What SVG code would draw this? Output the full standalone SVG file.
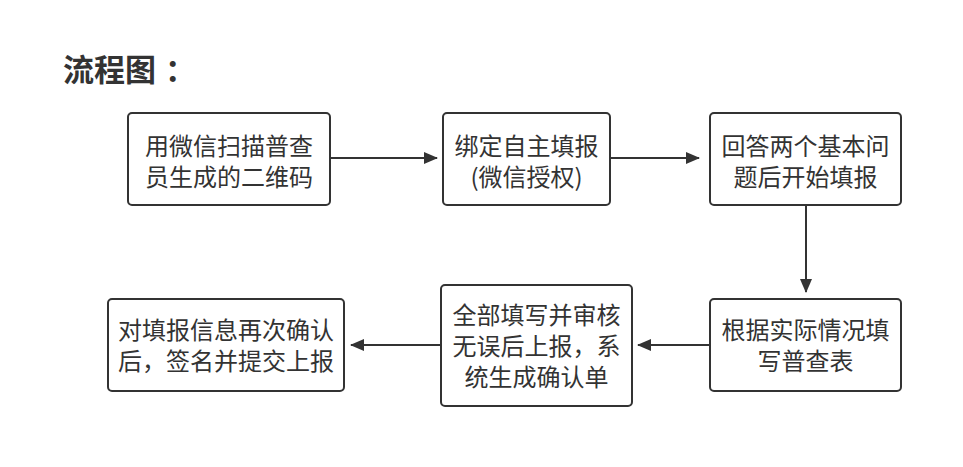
<svg xmlns="http://www.w3.org/2000/svg" width="963" height="467" viewBox="0 0 963 467">
<defs>
<style>
.box{fill:#fff;stroke:#333;stroke-width:2}
.t{font-family:"Noto Sans CJK SC","Noto Sans",sans-serif;font-size:24px;fill:#333;text-anchor:middle}
.title{font-family:"Noto Sans CJK SC","Noto Sans",sans-serif;font-size:31px;font-weight:bold;fill:#333}
.c{stroke:#333;stroke-width:2;fill:none;marker-end:url(#ah)}
</style>
<marker id="ah" viewBox="0 0 14 12" refX="13" refY="6" markerWidth="14" markerHeight="12" markerUnits="userSpaceOnUse" orient="auto">
<path d="M0,0 L14,6 L0,12 Z" fill="#333"/>
</marker>
</defs>
<rect width="963" height="467" fill="#fff"/>
<text class="title" x="63" y="81">流程图<tspan dx="9">：</tspan></text>
<g id="connectors">
<path class="c" d="M330,158 L437,158"/>
<path class="c" d="M610,158 L699,158"/>
<path class="c" d="M806,205 L806,292"/>
<path class="c" d="M710,345 L638,345"/>
<path class="c" d="M441,345 L351,345"/>
</g>
<g id="n1"><rect class="box" x="128" y="113" width="202" height="92" rx="4"/>
<text class="t" x="229" y="155">用微信扫描普查</text><text class="t" x="229" y="186">员生成的二维码</text></g>
<g id="n2"><rect class="box" x="443" y="113" width="167" height="92" rx="4"/>
<text class="t" x="526.5" y="155">绑定自主填报</text><text class="t" x="526.5" y="186">(微信授权)</text></g>
<g id="n3"><rect class="box" x="710" y="113" width="191" height="92" rx="4"/>
<text class="t" x="805.5" y="155">回答两个基本问</text><text class="t" x="805.5" y="186">题后开始填报</text></g>
<g id="n4"><rect class="box" x="710" y="299" width="191" height="92" rx="4"/>
<text class="t" x="805.5" y="339">根据实际情况填</text><text class="t" x="805.5" y="370">写普查表</text></g>
<g id="n5"><rect class="box" x="441" y="285" width="191" height="121" rx="4"/>
<text class="t" x="536.5" y="324">全部填写并审核</text><text class="t" x="536.5" y="355">无误后上报，系</text><text class="t" x="536.5" y="386">统生成确认单</text></g>
<g id="n6"><rect class="box" x="108" y="299" width="236" height="92" rx="4"/>
<text class="t" x="226" y="339">对填报信息再次确认</text><text class="t" x="226" y="370">后，签名并提交上报</text></g>
</svg>
